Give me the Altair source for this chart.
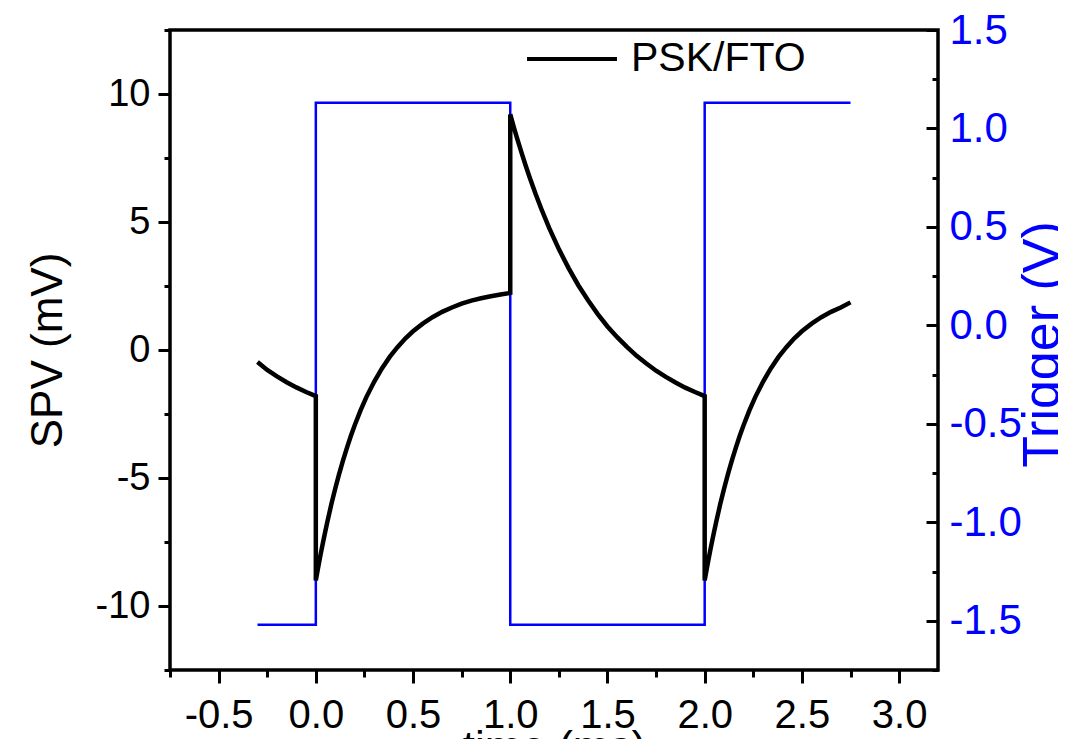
import altair as alt
import pandas as pd

# ---- data ----
spv_t = [-0.30, -0.25, -0.20, -0.15, -0.10, -0.05, 0.00,
         # light on at 0: sharp drop, then recovery
         0.00, 0.01, 0.02, 0.03, 0.04, 0.05, 0.06, 0.08, 0.10, 0.12, 0.14, 0.16, 0.18,
         0.20, 0.23, 0.26, 0.30, 0.34, 0.38, 0.42, 0.46, 0.50, 0.55, 0.60, 0.65, 0.70,
         0.75, 0.80, 0.85, 0.90, 0.95, 1.00,
         # light off at 1: sharp rise, then decay
         1.00, 1.01, 1.02, 1.04, 1.06, 1.08, 1.10, 1.13, 1.16, 1.20, 1.25, 1.30, 1.35,
         1.40, 1.45, 1.50, 1.55, 1.60, 1.65, 1.70, 1.75, 1.80, 1.85, 1.90, 1.95, 2.00,
         # light on at 2
         2.00, 2.01, 2.02, 2.03, 2.04, 2.05, 2.06, 2.08, 2.10, 2.12, 2.14, 2.16, 2.18,
         2.20, 2.23, 2.26, 2.30, 2.34, 2.38, 2.42, 2.46, 2.50, 2.55, 2.60, 2.65, 2.70,
         2.75]
spv_v = [-0.47, -0.78, -1.03, -1.26, -1.46, -1.64, -1.80,
         -9.00, -8.58, -8.17, -7.78, -7.40, -7.04, -6.69, -6.02, -5.41, -4.84, -4.31, -3.82, -3.36,
         -2.94, -2.36, -1.84, -1.24, -0.72, -0.27, 0.11, 0.45, 0.73, 1.03, 1.28, 1.49, 1.66,
         1.81, 1.93, 2.02, 2.10, 2.17, 2.23,
         9.20, 8.93, 8.66, 8.15, 7.66, 7.19, 6.74, 6.10, 5.51, 4.77, 3.94, 3.20, 2.53,
         1.94, 1.40, 0.92, 0.50, 0.12, -0.23, -0.53, -0.81, -1.05, -1.27, -1.47, -1.64, -1.80,
         -9.00, -8.58, -8.17, -7.78, -7.40, -7.04, -6.69, -6.02, -5.41, -4.84, -4.31, -3.82, -3.36,
         -2.94, -2.36, -1.84, -1.24, -0.72, -0.27, 0.11, 0.45, 0.73, 1.03, 1.28, 1.49, 1.66,
         1.86]

trig_t = [-0.30, 0.00, 0.00, 1.00, 1.00, 2.00, 2.00, 2.75]
trig_v = [-1.52, -1.52, 1.13, 1.13, -1.52, -1.52, 1.13, 1.13]

x_ticks = [-0.75, -0.5, -0.25, 0.0, 0.25, 0.5, 0.75, 1.0, 1.25, 1.5, 1.75,
           2.0, 2.25, 2.5, 2.75, 3.0]
spv_ticks = [-12.5, -10, -7.5, -5, -2.5, 0, 2.5, 5, 7.5, 10, 12.5]
trig_ticks = [-1.75, -1.5, -1.25, -1.0, -0.75, -0.5, -0.25, 0.0, 0.25, 0.5,
              0.75, 1.0, 1.25, 1.5]

series_name = "PSK/FTO"

spv_df = pd.DataFrame({"t": spv_t, "v": spv_v, "i": range(len(spv_t)),
                       "s": [series_name] * len(spv_t)})
trig_df = pd.DataFrame({"t": trig_t, "v": trig_v, "i": range(len(trig_t))})

FONT = "Liberation Sans, Arial, sans-serif"

half_minor = "abs((datum.value * 2) % 1) > 0.01"
five_minor = "abs(datum.value % 5) > 0.01"

x_axis = alt.Axis(
    values=x_ticks, domain=False, grid=False,
    tickColor="black", tickWidth=3,
    tickSize={"condition": {"test": half_minor, "value": 7}, "value": 13},
    labelExpr=half_minor + " ? '' : (datum.value < 0 ? '-' : '') + format(abs(datum.value), '.1f')",
    labelFont=FONT, labelFontSize=40, labelColor="black", labelPadding=12,
    labelOverlap=False, labelFlush=False,
    title="time (ms)", titleFont=FONT, titleFontSize=44, titleFontWeight="normal",
    titleColor="black", titleBaseline="top", titleY=56, titleX=384,
)

x_enc = alt.X("t:Q", scale=alt.Scale(domain=[-0.75, 3.2], nice=False, zero=False),
              axis=x_axis)

trig = alt.Chart(trig_df).mark_line(color="#0000ff", strokeWidth=2.5).encode(
    x=x_enc,
    y=alt.Y("v:Q", scale=alt.Scale(domain=[-1.75, 1.5], nice=False, zero=False),
            axis=alt.Axis(
                orient="right", values=trig_ticks, domain=False, grid=False,
                offset=-12, tickSize=12, tickWidth=3, tickColor="black",
                tickDash={"condition": {"test": half_minor, "value": [0, 6, 6, 0]},
                          "value": [12, 0]},
                labelExpr=half_minor + " ? '' : (datum.value < 0 ? '-' : '') + format(abs(datum.value), '.1f')",
                labelFont=FONT, labelFontSize=42, labelColor="#0000ff", labelPadding=11,
                labelOverlap=False, labelFlush=False,
                title="Trigger (V)", titleFont=FONT, titleFontSize=52,
                titleFontWeight="normal", titleColor="#0000ff", titleAngle=270,
                titleBaseline="middle", titleAlign="center", titleX=116, titleY=314,
            )),
    order="i:Q",
)

spv = alt.Chart(spv_df).mark_line(strokeWidth=4.5).encode(
    x=x_enc,
    y=alt.Y("v:Q", scale=alt.Scale(domain=[-12.5, 12.5], nice=False, zero=False),
            axis=alt.Axis(
                orient="left", values=spv_ticks, domain=False, grid=False,
                tickColor="black", tickWidth=3,
                tickSize={"condition": {"test": five_minor, "value": 6}, "value": 12},
                labelExpr=five_minor + " ? '' : (datum.value < 0 ? '-' : '') + format(abs(datum.value), 'd')",
                labelFont=FONT, labelFontSize=38, labelColor="black", labelPadding=8,
                labelOverlap=False, labelFlush=False,
                title="SPV (mV)", titleFont=FONT, titleFontSize=44,
                titleFontWeight="normal", titleColor="black", titleAngle=270,
                titleBaseline="middle", titleAlign="center", titleX=-122, titleY=320,
            )),
    color=alt.Color("s:N", scale=alt.Scale(domain=[series_name], range=["black"]),
                    legend=alt.Legend(
                        title=None, orient="none", legendX=355, legendY=-18,
                        symbolType="stroke", symbolSize=8100, symbolStrokeWidth=4,
                        labelFont=FONT, labelFontSize=41, labelColor="black",
                        labelLimit=0, labelOffset=12, padding=0)),
    order="i:Q",
)

chart = alt.layer(trig, spv).resolve_scale(y="independent").properties(
    width=768, height=640,
    autosize=alt.AutoSizeParams(type="none"),
    padding={"left": 162, "top": 22, "right": 120, "bottom": 69},
).configure_view(stroke="black", strokeWidth=3.5)

chart.save("out.html", embed_options={"renderer": "svg", "actions": False})
